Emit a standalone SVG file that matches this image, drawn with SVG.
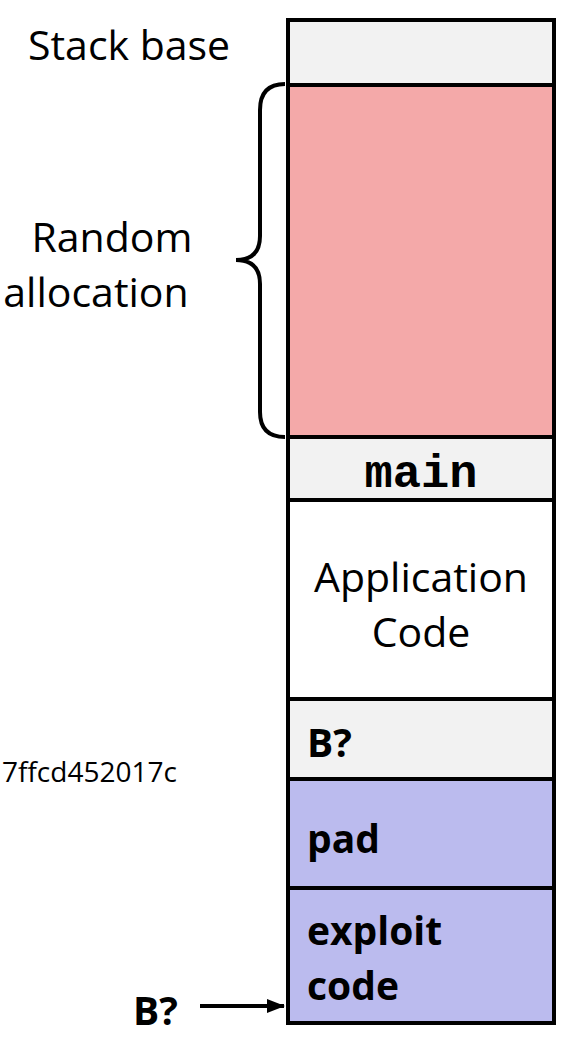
<svg xmlns="http://www.w3.org/2000/svg" width="579" height="1037" viewBox="0 0 579 1037">
<style>
.cell{stroke:#000;stroke-width:4}
.t{font-family:"Open Sans","Liberation Sans",sans-serif;fill:#000}
.b{font-family:"Open Sans","Liberation Sans",sans-serif;font-weight:bold;fill:#000}
.m{font-family:"Liberation Mono",monospace;font-weight:bold;fill:#000}
</style>
<defs>
<marker id="ah" markerWidth="18" markerHeight="14" refX="17" refY="7" orient="auto" markerUnits="userSpaceOnUse">
<path d="M0,0 L18,7 L0,14 Z" fill="#000"/>
</marker>
</defs>
<g id="stack-base">
<rect class="cell" x="288" y="20" width="266" height="65" fill="#f2f2f2"/>
</g>
<g id="random">
<rect class="cell" x="288" y="85" width="266" height="352" fill="#f4a9a9"/>
</g>
<g id="main">
<rect class="cell" x="288" y="437" width="266" height="63" fill="#f2f2f2"/>
<text class="m" x="421" y="487" font-size="47" text-anchor="middle">main</text>
</g>
<g id="app">
<rect class="cell" x="288" y="500" width="266" height="199" fill="#ffffff"/>
<text class="t" x="421" y="592" font-size="41" text-anchor="middle">Application</text>
<text class="t" x="421" y="647" font-size="41" text-anchor="middle">Code</text>
</g>
<g id="b-ret">
<rect class="cell" x="288" y="699" width="266" height="80" fill="#f2f2f2"/>
<text class="b" x="307" y="757" font-size="39">B?</text>
</g>
<g id="pad">
<rect class="cell" x="288" y="779" width="266" height="109" fill="#bbbbee"/>
<text class="b" x="307" y="853" font-size="39">pad</text>
</g>
<g id="exploit">
<rect class="cell" x="288" y="888" width="266" height="135" fill="#bbbbee"/>
<text class="b" x="307" y="945" font-size="39">exploit</text>
<text class="b" x="307" y="1000" font-size="39">code</text>
</g>
<g id="labels">
<text class="t" x="28" y="60" font-size="41">Stack base</text>
<text class="t" x="112" y="252" font-size="41" text-anchor="middle">Random</text>
<text class="t" x="96" y="307" font-size="41" text-anchor="middle">allocation</text>
<text class="t" x="2" y="782" font-size="28">7ffcd452017c</text>
<text class="b" x="133" y="1025" font-size="39">B?</text>
</g>
<g id="connectors">
<path d="M285,84 Q260,84 260,110 L260,236 Q260,260 236,260 Q260,260 260,284 L260,412 Q260,437 285,437" fill="none" stroke="#000" stroke-width="4"/>
<line x1="200" y1="1006" x2="284" y2="1006" stroke="#000" stroke-width="4" marker-end="url(#ah)"/>
</g>
</svg>
